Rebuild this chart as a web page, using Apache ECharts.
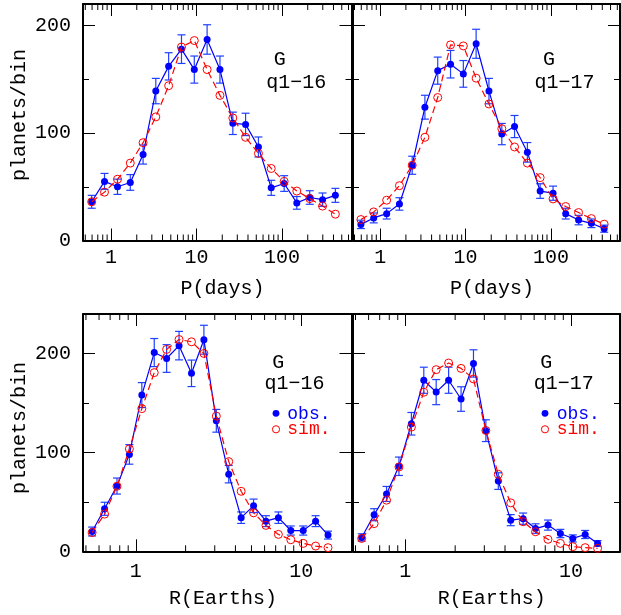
<!DOCTYPE html>
<html>
<head>
<meta charset="utf-8">
<script src="https://cdn.jsdelivr.net/npm/echarts@6/dist/echarts.min.js"></script>
<style>
html, body { margin: 0; padding: 0; background: #fff; }
#chart { width: 621px; height: 615px; }
</style>
</head>
<body>
<div id="chart"></div>
<script>
// Bin centres: orbital period (days, 0.15 dex bins) and planet radius (Earth radii, 0.075 dex bins)
const periodBins = [0.594, 0.839, 1.19, 1.68, 2.37, 3.34, 4.72, 6.67, 9.42, 13.3, 18.8, 26.6, 37.5, 53.0, 74.8, 106, 149, 211, 298, 421];
const radiusBins = [0.545, 0.648, 0.770, 0.915, 1.088, 1.293, 1.536, 1.826, 2.171, 2.58, 3.066, 3.644, 4.331, 5.147, 6.117, 7.27, 8.64, 10.27, 12.2, 14.5];

// Minor tick positions of the logarithmic axes
const periodMinorTicks = [0.5, 0.6, 0.7, 0.8, 0.9, 2, 3, 4, 5, 6, 7, 8, 9, 20, 30, 40, 50, 60, 70, 80, 90, 200, 300, 400, 500, 600];
const radiusMinorTicks = [0.5, 0.6, 0.7, 0.8, 0.9, 2, 3, 4, 5, 6, 7, 8, 9];

// Period distributions, quarters 1-16
const obsP16 = [36, 55, 50, 54, 80, 139, 162, 178, 159, 187, 159, 109, 108, 87, 49, 53, 35, 40, 38, 42];
const errP16 = [6.0, 7.4, 7.1, 7.3, 8.9, 11.8, 12.7, 13.3, 12.6, 13.7, 12.6, 10.4, 10.4, 9.3, 7.0, 7.3, 5.9, 6.3, 6.2, 6.5];
const simP16 = [36, 45, 57, 72, 91, 115, 144, 180, 186, 159, 135, 114, 96, 81, 67, 55, 46, 39, 32, 24.5];

// Period distributions, quarters 1-17
const obsP17 = [15, 21, 25, 34, 70, 124, 158, 164, 155, 183, 139, 99, 106, 82, 46, 44, 25, 19, 16, 11];
const errP17 = [3.9, 4.6, 5.0, 5.8, 8.4, 11.1, 12.6, 12.8, 12.4, 13.5, 11.8, 9.9, 10.3, 9.1, 6.8, 6.6, 5.0, 4.4, 4.0, 3.3];
const simP17 = [19.5, 26.6, 37.5, 51, 70, 96, 133, 182, 181, 151, 127, 104, 87, 72, 58.5, 38.7, 31.6, 26, 20.4, 15.2];

// Radius distributions, quarters 1-16
const obsR16 = [20, 43, 66, 98, 158, 201, 195, 208, 180, 214, 132, 78, 34, 46, 30.5, 34, 21, 21, 30.5, 16.4];
const errR16 = [4.5, 6.6, 8.1, 9.9, 12.6, 14.2, 14.0, 14.4, 13.4, 14.6, 11.5, 8.8, 5.8, 6.8, 5.5, 5.8, 4.6, 4.6, 5.5, 4.0];
const simR16 = [19, 37.6, 65.8, 103.6, 144.3, 180.7, 204.2, 214.2, 211.9, 200.1, 136.7, 90.7, 60.7, 38.9, 26.2, 17.1, 11.7, 8, 5.3, 3.7];

// Radius distributions, quarters 1-17
const obsR17 = [14, 37, 58, 86, 129, 173, 161, 173, 154, 190, 122, 71, 31.5, 33, 23, 26.5, 18, 13, 17, 8];
const errR17 = [3.7, 6.1, 7.6, 9.3, 11.4, 13.2, 12.7, 13.2, 12.4, 13.8, 11.0, 8.4, 5.6, 5.7, 4.8, 5.1, 4.2, 3.6, 4.1, 2.8];
const simR17 = [13, 28, 51.7, 85.3, 125.6, 160.9, 183.7, 190.4, 185, 174.3, 122.2, 77.9, 49, 29.9, 19.8, 12.1, 8, 4.7, 3.7, 3];

const FONT = 'Liberation Mono';
const BLUE = '#0000ff';
const RED = '#ff0000';

const panels = [
  { left: 83,  top: 4,   width: 268.5, height: 236.5, labelGap: 7,  bins: periodBins, minor: periodMinorTicks, xMin: 0.47,  xMax: 650,  yMax: 220, obs: obsP16, err: errP16, sim: simP16, yLabels: true },
  { left: 353, top: 4,   width: 267,   height: 236.5, labelGap: 7,  bins: periodBins, minor: periodMinorTicks, xMin: 0.48,  xMax: 645,  yMax: 220, obs: obsP17, err: errP17, sim: simP17, yLabels: false },
  { left: 83,  top: 314, width: 268.5, height: 237.3, labelGap: 10, bins: radiusBins, minor: radiusMinorTicks, xMin: 0.48,  xMax: 20.1, yMax: 240, obs: obsR16, err: errR16, sim: simR16, yLabels: true },
  { left: 353, top: 314, width: 267,   height: 237.3, labelGap: 10, bins: radiusBins, minor: radiusMinorTicks, xMin: 0.483, xMax: 19.8, yMax: 240, obs: obsR17, err: errR17, sim: simR17, yLabels: false }
];

const frameLine = { show: true, onZero: false, lineStyle: { color: '#000', width: 2 } };
const majorTick = { show: true, inside: true, length: 12, lineStyle: { color: '#000', width: 1 } };
const minorTick = { show: true, inside: true, length: 6, lineStyle: { color: '#000', width: 1 } };

function decadeLabel(v) {
  const l = Math.log10(v);
  return Math.abs(l - Math.round(l)) < 1e-6 ? String(Math.round(v)) : '';
}
function hundredLabel(v) {
  return v % 100 === 0 ? String(v) : '';
}

function renderErrorBar(params, api) {
  const x = api.value(0);
  const lo = api.coord([x, api.value(1)]);
  const hi = api.coord([x, api.value(2)]);
  const hw = 4;
  const style = { stroke: '#2040ff', lineWidth: 1.2, fill: null };
  return {
    type: 'group',
    children: [
      { type: 'line', shape: { x1: lo[0], y1: lo[1], x2: hi[0], y2: hi[1] }, style },
      { type: 'line', shape: { x1: lo[0] - hw, y1: lo[1], x2: lo[0] + hw, y2: lo[1] }, style },
      { type: 'line', shape: { x1: hi[0] - hw, y1: hi[1], x2: hi[0] + hw, y2: hi[1] }, style }
    ]
  };
}

function renderMinorTick(params, api) {
  const x = api.value(0);
  const b = api.coord([x, api.value(1)]);
  const t = api.coord([x, api.value(2)]);
  const style = { stroke: '#000', lineWidth: 1 };
  return {
    type: 'group',
    children: [
      { type: 'line', shape: { x1: b[0], y1: b[1], x2: b[0], y2: b[1] - 6 }, style },
      { type: 'line', shape: { x1: t[0], y1: t[1], x2: t[0], y2: t[1] + 6 }, style }
    ]
  };
}

const grid = [], xAxis = [], yAxis = [], series = [];

panels.forEach((p, i) => {
  grid.push({ left: p.left, top: p.top, width: p.width, height: p.height, outerBoundsMode: 'none' });

  const xBase = { gridIndex: i, type: 'log', logBase: 10, min: p.xMin, max: p.xMax, splitLine: { show: false } };
  xAxis.push(Object.assign({}, xBase, {
    position: 'bottom', axisLine: frameLine, axisTick: majorTick,
    axisLabel: { show: true, margin: p.labelGap, formatter: decadeLabel, fontFamily: FONT, fontSize: 20, color: '#000' }
  }));
  xAxis.push(Object.assign({}, xBase, {
    position: 'top', axisLine: frameLine, axisTick: majorTick, axisLabel: { show: false }
  }));

  const yBase = { gridIndex: i, type: 'value', min: 0, max: p.yMax, splitLine: { show: false } };
  yAxis.push(Object.assign({}, yBase, {
    position: 'left', interval: 100, axisLine: frameLine, axisTick: majorTick,
    axisLabel: { show: p.yLabels, margin: 12, formatter: hundredLabel, fontFamily: FONT, fontSize: 20, color: '#000' }
  }));
  yAxis.push(Object.assign({}, yBase, {
    position: 'left', interval: 50, axisLine: { show: false }, axisTick: minorTick, axisLabel: { show: false }
  }));
  yAxis.push(Object.assign({}, yBase, {
    position: 'right', interval: 100, axisLine: frameLine, axisTick: majorTick, axisLabel: { show: false }
  }));
  yAxis.push(Object.assign({}, yBase, {
    position: 'right', interval: 50, axisLine: { show: false }, axisTick: minorTick, axisLabel: { show: false }
  }));

  const xi = 2 * i, yi = 4 * i;

  series.push({
    type: 'custom', xAxisIndex: xi, yAxisIndex: yi, silent: true, z: 1,
    renderItem: renderMinorTick,
    data: p.minor.map(v => [v, 0, p.yMax])
  });
  series.push({
    type: 'custom', xAxisIndex: xi, yAxisIndex: yi, silent: true, z: 2,
    renderItem: renderErrorBar,
    data: p.bins.map((x, k) => [x, p.obs[k] - p.err[k], p.obs[k] + p.err[k]])
  });
  series.push({
    name: 'obs.', type: 'line', xAxisIndex: xi, yAxisIndex: yi, z: 3,
    data: p.bins.map((x, k) => [x, p.obs[k]]),
    symbol: 'circle', symbolSize: 7,
    itemStyle: { color: BLUE },
    lineStyle: { color: BLUE, width: 1.2 }
  });
  series.push({
    name: 'sim.', type: 'line', xAxisIndex: xi, yAxisIndex: yi, z: 4,
    data: p.bins.map((x, k) => [x, p.sim[k]]),
    symbol: 'circle', symbolSize: 8,
    itemStyle: { color: 'rgba(0,0,0,0)', borderColor: RED, borderWidth: 1 },
    lineStyle: { color: RED, width: 1.2, type: [7, 4] }
  });
});

function txt(text, x, y, opts) {
  return {
    type: 'text', x, y, rotation: (opts && opts.rotation) || 0, z: 10,
    style: Object.assign({
      text, fontFamily: FONT, fontSize: 20, fill: '#000', align: 'center', verticalAlign: 'middle'
    }, opts && opts.style)
  };
}

const graphic = [
  txt('planets/bin', 20, 115, { rotation: Math.PI / 2 }),
  txt('planets/bin', 20, 428, { rotation: Math.PI / 2 }),
  txt('P(days)', 222.5, 289),
  txt('P(days)', 492, 289),
  txt('R(Earths)', 223, 598.5),
  txt('R(Earths)', 491.7, 598.5),

  txt('G', 279.7, 59.5),
  txt('q1\u221216', 296.3, 83),
  txt('G', 549, 59.5),
  txt('q1\u221217', 564.5, 83),

  txt('G', 278.3, 363),
  txt('q1\u221216', 294.5, 383.3),
  txt('G', 546.2, 363),
  txt('q1\u221217', 563.8, 383.3),

  { type: 'circle', z: 10, shape: { cx: 276, cy: 413.3, r: 3.4 }, style: { fill: BLUE } },
  txt('obs.', 287.3, 414, { style: { align: 'left', fill: BLUE, fontSize: 18 } }),
  { type: 'circle', z: 10, shape: { cx: 276, cy: 429.3, r: 3.6 }, style: { fill: 'none', stroke: RED, lineWidth: 1 } },
  txt('sim.', 287.3, 429, { style: { align: 'left', fill: RED, fontSize: 18 } }),

  { type: 'circle', z: 10, shape: { cx: 545, cy: 413.3, r: 3.4 }, style: { fill: BLUE } },
  txt('obs.', 556.7, 414, { style: { align: 'left', fill: BLUE, fontSize: 18 } }),
  { type: 'circle', z: 10, shape: { cx: 545, cy: 429.3, r: 3.6 }, style: { fill: 'none', stroke: RED, lineWidth: 1 } },
  txt('sim.', 556.7, 429, { style: { align: 'left', fill: RED, fontSize: 18 } })
];

const chart = echarts.init(document.getElementById('chart'), null, { renderer: 'canvas' });
chart.setOption({
  animation: false,
  backgroundColor: '#fff',
  grid, xAxis, yAxis, series, graphic
});
</script>
</body>
</html>
